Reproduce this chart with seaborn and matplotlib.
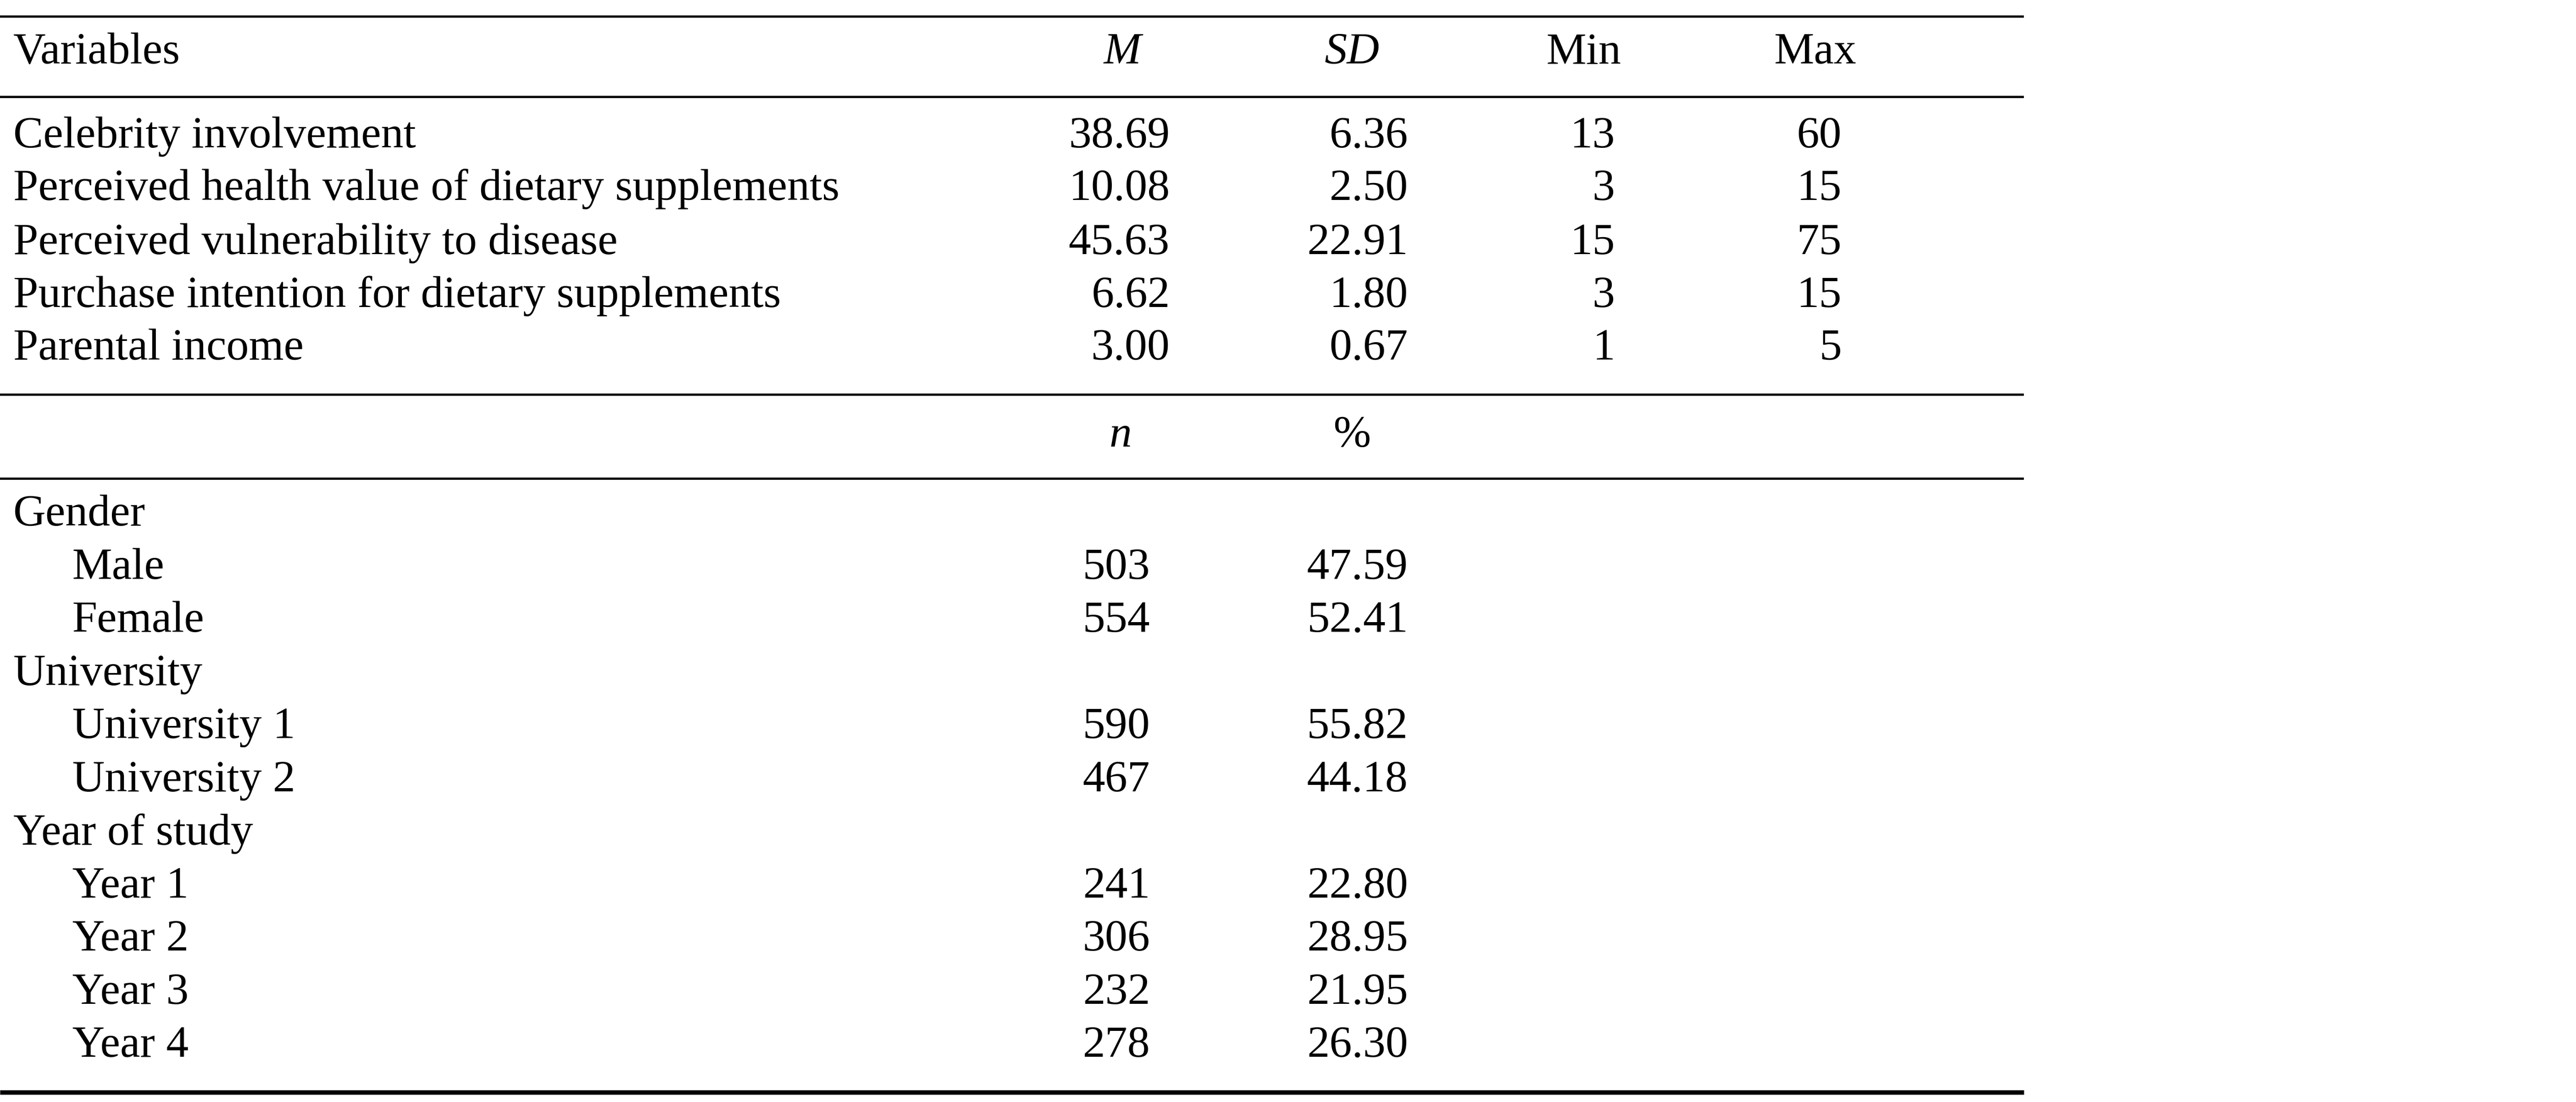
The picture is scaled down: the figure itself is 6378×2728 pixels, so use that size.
import matplotlib
matplotlib.use("Agg")
import matplotlib.pyplot as plt
import seaborn as sns

sns.set_theme(style="white")
plt.rcParams['font.family'] = ['Liberation Serif', 'DejaVu Serif']

variables = ["Celebrity involvement", "Perceived health value of dietary supplements",
             "Perceived vulnerability to disease", "Purchase intention for dietary supplements",
             "Parental income"]
means = ["38.69", "10.08", "45.63", "6.62", "3.00"]
sds = ["6.36", "2.50", "22.91", "1.80", "0.67"]
mins = ["13", "3", "15", "3", "1"]
maxs = ["60", "15", "75", "15", "5"]

groups = ["Gender", "Male", "Female", "University", "University 1", "University 2",
          "Year of study", "Year 1", "Year 2", "Year 3", "Year 4"]
is_sub = [False, True, True, False, True, True, False, True, True, True, True]
ns = ["", "503", "554", "", "590", "467", "", "241", "306", "232", "278"]
pcts = ["", "47.59", "52.41", "", "55.82", "44.18", "", "22.80", "28.95", "21.95", "26.30"]

W, H = 1568, 670
fig = plt.figure(figsize=(63.78, 27.28), dpi=100)
ax = fig.add_axes([0, 0, 1, 1])
ax.set_xlim(0, W)
ax.set_ylim(H, 0)
ax.axis("off")

fs = 80
kw = dict(fontsize=fs, va="center", color="black")

ax.hlines([10, 59, 240, 291], 0, 1232, color="black", lw=4)
ax.hlines([664], 0, 1232, color="black", lw=8)

ax.text(8, 32, "Variables", ha="left", **kw)
ax.text(683, 32, "M", ha="center", style="italic", **kw)
ax.text(823, 32, "SD", ha="center", style="italic", **kw)
ax.text(964, 32, "Min", ha="center", **kw)
ax.text(1105, 32, "Max", ha="center", **kw)

ys = [83, 115, 148, 180, 212]
for y, v, m, s, mn, mx in zip(ys, variables, means, sds, mins, maxs):
    ax.text(8, y, v, ha="left", **kw)
    ax.text(712, y, m, ha="right", **kw)
    ax.text(857, y, s, ha="right", **kw)
    ax.text(983, y, mn, ha="right", **kw)
    ax.text(1121, y, mx, ha="right", **kw)

ax.text(682, 265, "n", ha="center", style="italic", **kw)
ax.text(823, 265, "%", ha="center", **kw)

y0, dy = 313, 32.3
for i, (g, sub, n, p) in enumerate(zip(groups, is_sub, ns, pcts)):
    y = y0 + i * dy
    ax.text(44 if sub else 8, y, g, ha="left", **kw)
    if n:
        ax.text(700, y, n, ha="right", **kw)
        ax.text(857, y, p, ha="right", **kw)

fig.savefig("out.png", dpi=100, facecolor="white")
